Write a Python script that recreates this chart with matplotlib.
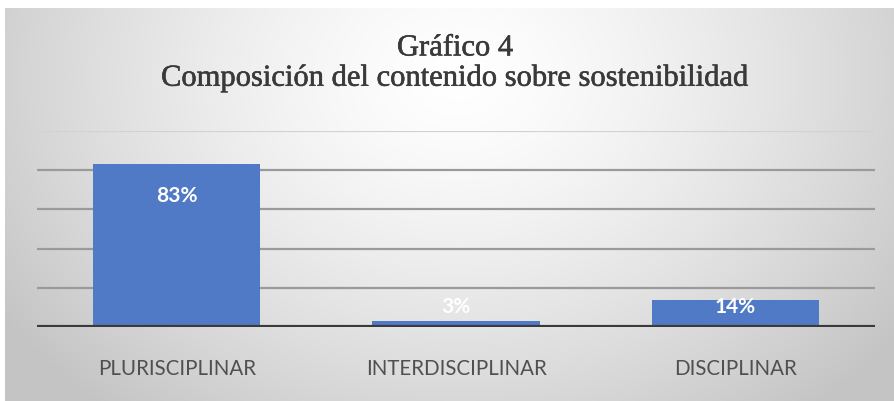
import matplotlib.pyplot as plt
import matplotlib.patheffects as pe
import numpy as np

categories = ['PLURISCIPLINAR', 'INTERDISCIPLINAR', 'DISCIPLINAR']
values = np.array([83, 3, 14])
value_labels = ['83%', '3%', '14%']
title_line1 = 'Gráfico 4'
title_line2 = 'Composición del contenido sobre sostenibilidad'

W, H = 894, 401
fig = plt.figure(figsize=(W / 100, H / 100), dpi=100)

# background: white margin at top/left, grey radial gradient inside the chart frame
bg = fig.add_axes([0, 0, 1, 1])
bg.set_xlim(0, W)
bg.set_ylim(H, 0)
bg.axis('off')
yy, xx = np.mgrid[0:H, 0:W]
d = np.sqrt(((xx - 455) / 500.0) ** 2 + ((yy - 70) / 400.0) ** 2)
shade = np.clip(1.0 - 0.2 * d ** 1.4, 0.77, 1.0)
img = np.dstack([shade, shade, shade])
bg.imshow(img, extent=(5, W, H, 8), aspect='auto', zorder=0)

ax = fig.add_axes([37 / W, 74 / H, 838 / W, 196 / H])
ax.patch.set_alpha(0)
x = np.arange(len(categories))
ax.bar(x, values, width=0.6, color='#5079C6', zorder=2)
ax.set_xlim(-0.5, len(categories) - 0.5)
ax.set_ylim(0, 100)

for yv in [20, 40, 60, 80]:
    ax.axhline(yv, color='#9a9a9a', lw=1.6, zorder=1)
ax.axhline(100, color='#d2d2d2', lw=1.6, zorder=1)
ax.axhline(0, color='#3a3a3a', lw=3, zorder=3)

for s in ax.spines.values():
    s.set_visible(False)
ax.set_yticks([])
ax.set_xticks(x)
ax.set_xticklabels(categories, fontfamily='Lato', fontsize=14.8, color='#505050')
ax.tick_params(axis='x', length=0, pad=23)

label_top = np.maximum(values - 11, 15.5)
for xi, yt, lab in zip(x, label_top, value_labels):
    ax.text(xi, yt, lab, ha='center', va='top', color='white',
            fontfamily='Lato', fontweight='bold', fontsize=15, zorder=4)

thick = [pe.withStroke(linewidth=0.4, foreground='#3a3a3a')]
fig.text(455 / W, 1 - 48 / H, title_line1, ha='center', va='center',
         fontfamily='Liberation Serif', fontsize=22, color='#3a3a3a',
         path_effects=thick)
fig.text(454 / W, 1 - 78 / H, title_line2, ha='center', va='center',
         fontfamily='Liberation Serif', fontsize=22, color='#3a3a3a',
         path_effects=thick)

fig.savefig('out.png', dpi=100)
